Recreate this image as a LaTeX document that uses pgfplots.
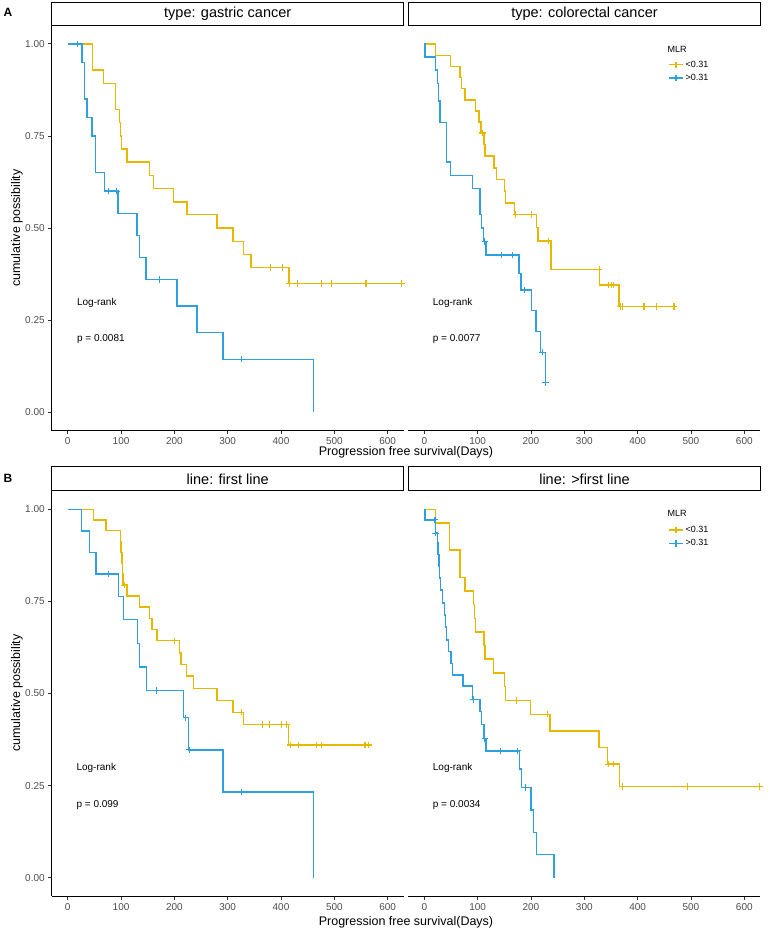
\documentclass[border=0pt]{standalone}
\usepackage{pgfplots}
\pgfplotsset{compat=1.18}
\usepackage{fontspec}
\setmainfont{Liberation Sans}
\definecolor{kmY}{HTML}{E7B800}
\definecolor{kmB}{HTML}{2E9FDF}
\definecolor{gray30}{HTML}{4D4D4D}
\definecolor{gray20}{HTML}{333333}

\pgfplotsset{
 km/.style={scale only axis, width=352pt, height=405.3pt,
   xmin=-30, xmax=630, ymin=-0.05, ymax=1.05,
   xtick={0,100,200,300,400,500,600}, ytick={0,0.25,0.5,0.75,1},
   yticklabel style={/pgf/number format/.cd, fixed, fixed zerofill, precision=2},
   /pgf/number format/assume math mode=true,
   tick label style={font=\fontsize{10}{12}\selectfont, text=gray30},
   tick align=outside, major tick length=3.5pt, tick style={gray20, line width=0.7pt},
   axis line style={black, line width=0.8pt},
   clip=false,
 },
 kmleft/.style={km, axis x line*=bottom, axis y line*=left},
 kmright/.style={km, axis x line*=bottom, axis y line=none, ytick=\empty,
   legend style={at={(0.738,0.918)}, anchor=north west, draw=none, fill=none,
     font=\fontsize{9}{11}\selectfont, row sep=1.5pt, inner sep=0pt, nodes={inner sep=2pt}},
   legend cell align=left,
   legend image code/.code={\draw[mark repeat=2,mark phase=2] plot coordinates {(0pt,0pt) (7pt,0pt) (14pt,0pt)};},
 },
 curveY/.style={kmY, line width=1.4pt, const plot, mark=none, forget plot},
 curveB/.style={kmB, line width=1.4pt, const plot, mark=none, forget plot},
 censY/.style={kmY, only marks, mark=+, mark size=3.2pt, mark options={line width=1.1pt}, forget plot},
 censB/.style={kmB, only marks, mark=+, mark size=3.2pt, mark options={line width=1.1pt}, forget plot},
}
\newcommand{\lrfont}{\fontsize{10}{12}\selectfont}

\begin{document}
\begin{tikzpicture}
\useasboundingbox (0pt,0pt) rectangle (770pt,935pt);

% ---------------- Row A ----------------
\begin{axis}[kmleft, at={(51.7pt,504.3pt)}, anchor=south west]
\addplot[curveY] coordinates {(0,1) (46.9,0.929) (67.5,0.893) (89.3,0.821) (97.4,0.786) (99,0.750) (100.6,0.714) (111.2,0.679) (153.6,0.643) (161.1,0.607) (198.6,0.571) (223.5,0.536) (279.7,0.500) (309.7,0.464) (329.7,0.429) (343.4,0.393) (415.2,0.349) (626,0.349)};
\addplot[censY] coordinates {(379.6,0.393) (402.7,0.393) (416,0.349) (431.4,0.349) (476.3,0.349) (493.8,0.349) (559.4,0.349) (561,0.349) (626,0.349)};
\addplot[curveB] coordinates {(0,1) (26.9,0.95) (31.9,0.85) (36.3,0.80) (45.6,0.75) (51.9,0.65) (69.4,0.60) (94.4,0.54) (130,0.48) (134.4,0.42) (146.9,0.36) (205,0.288) (242.5,0.216) (291.2,0.144) (461.2,0)};
\addplot[censB] coordinates {(18.8,1) (76.9,0.6) (91.3,0.6) (171.9,0.36) (325.6,0.144)};
\node[anchor=west, font=\lrfont] at (axis cs:11,0.297) {Log-rank};
\node[anchor=west, font=\lrfont] at (axis cs:11,0.198) {p = 0.0081};
\end{axis}

\begin{axis}[kmright, at={(408.3pt,504.3pt)}, anchor=south west]
\addplot[curveY] coordinates {(0,1) (21.3,0.969) (49.4,0.939) (66.9,0.909) (70,0.879) (76.2,0.848) (96.2,0.818) (102.4,0.788) (106.2,0.758) (111.8,0.726) (113.7,0.695) (130.5,0.663) (135.5,0.632) (149.9,0.600) (152.4,0.568) (168.6,0.537) (210.4,0.501) (213.5,0.465) (237.3,0.388) (329,0.345) (365.2,0.287) (468.2,0.287)};
\addplot[censY] coordinates {(109.3,0.758) (171.7,0.537) (201,0.537) (232.3,0.465) (327.8,0.388) (345.9,0.345) (350.9,0.345) (354,0.345) (367.7,0.287) (371.5,0.287) (412,0.287) (435.1,0.287) (468.2,0.287)};
\addplot[curveB] coordinates {(0,1) (1.3,0.964) (21.3,0.929) (24.4,0.893) (26.3,0.845) (29.4,0.786) (41.9,0.679) (49.4,0.643) (90,0.607) (104.3,0.536) (107.4,0.500) (110.5,0.464) (115.5,0.427) (177.3,0.377) (181.1,0.332) (201,0.276) (209.2,0.219) (217.9,0.163) (227.3,0.080)};
\addplot[censB] coordinates {(113.7,0.464) (144.9,0.427) (165.5,0.427) (188.6,0.332) (221.7,0.163) (227.3,0.080)};
\node[anchor=west, font=\lrfont] at (axis cs:9.5,0.297) {Log-rank};
\node[anchor=west, font=\lrfont] at (axis cs:9.5,0.198) {p = 0.0077};
\node[anchor=west, inner sep=0pt, font=\fontsize{9}{11}\selectfont] at (rel axis cs:0.736,0.941) {MLR};
\addlegendimage{kmY, line width=1.4pt, mark=+, mark size=3.2pt, mark options={line width=1.1pt}}
\addlegendentry{<0.31}
\addlegendimage{kmB, line width=1.4pt, mark=+, mark size=3.2pt, mark options={line width=1.1pt}}
\addlegendentry{>0.31}
\end{axis}

% ---------------- Row B ----------------
\begin{axis}[kmleft, at={(51.7pt,38.9pt)}, anchor=south west]
\addplot[curveY] coordinates {(0,1) (48.7,0.971) (71.9,0.942) (98.7,0.912) (100,0.882) (101.5,0.853) (102.8,0.824) (103.7,0.794) (111.2,0.765) (134.9,0.735) (153.6,0.704) (158,0.674) (167.4,0.643) (209.2,0.610) (212.3,0.579) (222.3,0.547) (236,0.514) (279.7,0.481) (309.7,0.449) (329.7,0.416) (413.9,0.360) (563.7,0.360)};
\addplot[censY] coordinates {(106.2,0.794) (199.8,0.643) (325.3,0.449) (365.9,0.416) (378.3,0.416) (401.4,0.416) (410.8,0.416) (417,0.360) (432.6,0.360) (467,0.360) (476.3,0.360) (557.5,0.360) (563.7,0.360)};
\addplot[curveB] coordinates {(0,1) (25.7,0.941) (41.3,0.882) (53.1,0.824) (95.6,0.763) (104.9,0.700) (131.1,0.636) (134.9,0.572) (147.4,0.508) (217.3,0.434) (226.7,0.347) (290.9,0.232) (460.7,0)};
\addplot[censB] coordinates {(76.8,0.824) (166.1,0.508) (221.7,0.434) (227.9,0.347) (325.3,0.232)};
\node[anchor=west, font=\lrfont] at (axis cs:10,0.297) {Log-rank};
\node[anchor=west, font=\lrfont] at (axis cs:10,0.197) {p = 0.099};
\end{axis}

\begin{axis}[kmright, at={(408.3pt,38.9pt)}, anchor=south west]
\addplot[curveY] coordinates {(0,1) (21.3,0.963) (46.9,0.889) (66.9,0.815) (76.2,0.778) (91.8,0.741) (93.7,0.704) (96.2,0.667) (111.8,0.630) (113.7,0.593) (129.3,0.556) (149.9,0.519) (152.4,0.481) (199.2,0.4435) (235.4,0.398) (327.8,0.353) (343.4,0.308) (366.5,0.247) (628.6,0.247)};
\addplot[censY] coordinates {(173,0.481) (231,0.4435) (344.6,0.308) (354,0.308) (370.9,0.247) (493.2,0.247) (628.6,0.247)};
\addplot[curveB] coordinates {(0,1) (1.3,0.971) (21.3,0.935) (24.4,0.908) (26,0.877) (27.5,0.845) (29,0.813) (30.6,0.781) (33.8,0.745) (37.5,0.713) (40,0.680) (41.9,0.645) (45,0.614) (50,0.582) (52.5,0.550) (72.7,0.520) (90,0.484) (104.3,0.451) (107.4,0.415) (111.8,0.378) (115.5,0.344) (178,0.295) (182.3,0.245) (199.8,0.184) (204.2,0.123) (210.4,0.063) (243.5,0)};
\addplot[censB] coordinates {(20,0.971) (21.3,0.935) (91.8,0.484) (113.7,0.378) (143.6,0.344) (174.8,0.344) (189.8,0.245)};
\node[anchor=west, font=\lrfont] at (axis cs:9.5,0.297) {Log-rank};
\node[anchor=west, font=\lrfont] at (axis cs:9.5,0.197) {p = 0.0034};
\node[anchor=west, inner sep=0pt, font=\fontsize{9}{11}\selectfont] at (rel axis cs:0.736,0.943) {MLR};
\addlegendimage{kmY, line width=1.4pt, mark=+, mark size=3.2pt, mark options={line width=1.1pt}}
\addlegendentry{<0.31}
\addlegendimage{kmB, line width=1.4pt, mark=+, mark size=3.2pt, mark options={line width=1.1pt}}
\addlegendentry{>0.31}
\end{axis}

% ---------------- strips, titles, labels ----------------
\def\stripfont{\fontsize{14.5}{16}\selectfont}
\draw[line width=1pt, black, fill=white] (51.7pt,909.7pt) rectangle (403.7pt,932pt);
\node[font=\stripfont] at (227.7pt,920.85pt) {type: gastric cancer};
\draw[line width=1pt, black, fill=white] (408.3pt,909.7pt) rectangle (760.7pt,932pt);
\node[font=\stripfont] at (584.5pt,920.85pt) {type: colorectal cancer};
\draw[line width=1pt, black, fill=white] (51.7pt,444.1pt) rectangle (403.7pt,468pt);
\node[font=\stripfont] at (227.7pt,456.05pt) {line: first line};
\draw[line width=1pt, black, fill=white] (408.3pt,444.1pt) rectangle (760.7pt,468pt);
\node[font=\stripfont] at (584.5pt,456.05pt) {line: >first line};

\node[font=\fontsize{12.5}{14}\selectfont] at (406pt,482.5pt) {Progression free survival(Days)};
\node[font=\fontsize{12.5}{14}\selectfont] at (406pt,13pt) {Progression free survival(Days)};
\node[font=\fontsize{12.5}{14}\selectfont, rotate=90] at (17pt,707pt) {cumulative possibility};
\node[font=\fontsize{12.5}{14}\selectfont, rotate=90] at (17pt,242pt) {cumulative possibility};

\node[font=\bfseries\fontsize{12}{14}\selectfont] at (8pt,923pt) {A};
\node[font=\bfseries\fontsize{12}{14}\selectfont] at (8pt,457pt) {B};
\end{tikzpicture}
\end{document}
